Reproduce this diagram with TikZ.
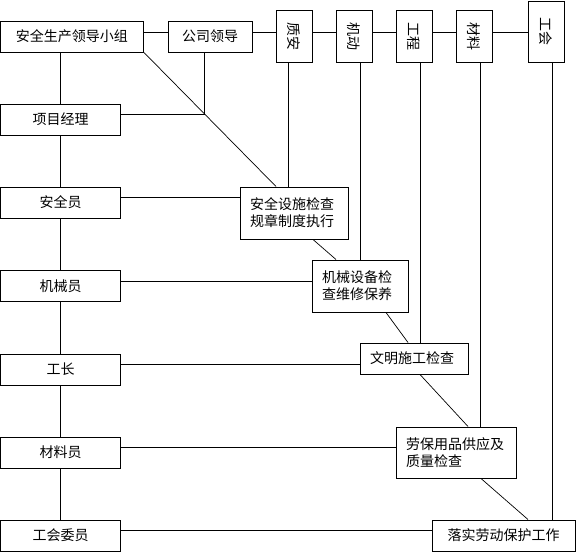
\documentclass[tikz,border=0pt]{standalone}
\usepackage{fontspec}
\newfontfamily\cjk{Noto Sans CJK SC}
\usetikzlibrary{calc}

\begin{document}
\begin{tikzpicture}[x=1pt,y=-1pt]
\tikzset{
	box/.style = {draw, line width=1pt, inner sep=0pt, font=\cjk\fontsize{14}{17}\selectfont},
	staff/.style = {box, minimum width=120pt, minimum height=31pt},
	dept/.style = {box, minimum width=36pt, minimum height=52pt},
	duty/.style = {box, align=left, inner xsep=10pt},
	link/.style = {line width=1pt},
	slant/.style = {line width=0.7pt},
}
\useasboundingbox (0,0) rectangle (576,552);

\node(xiaozu)[box, minimum width=143pt, minimum height=31pt] at (72,36.5) {安全生产领导小组};
\node(lingdao)[box, minimum width=84pt, minimum height=31pt] at (210,36.5) {公司领导};

\foreach \name/\x/\txt in {zhian/294/质安, jidong/354/机动, gongcheng/414/工程, cailiao/474/材料}
	\node(\name)[dept] at (\x,36) {\rotatebox{-90}{\txt}};
\node(gonghui)[dept, minimum height=61pt] at (546,31.5) {\rotatebox{-90}{工会}};

\foreach \name/\y/\txt in {xiangmu/119.5/项目经理, anquanyuan/202.5/安全员, jixieyuan/286/机械员,
		gongzhang/369.5/工长, cailiaoyuan/452.5/材料员, gonghuiwy/535.5/工会委员}
	\node(\name)[staff] at (60.5,\y) {\txt};

\node(sheshi)[duty, text width=88pt, minimum height=52pt] at (294,213) {安全设施检查\\规章制度执行};
\node(jixie)[duty, text width=76pt, minimum height=52pt] at (360,286) {机械设备检\\查维修保养};
\node(wenming)[duty, text width=88pt, minimum height=31pt] at (414,358.5) {文明施工检查};
\node(laobao)[duty, text width=100pt, minimum height=51pt] at (456,452.5) {劳保用品供应及\\质量检查};
\node(luoshi)[box, minimum width=143pt, minimum height=31pt] at (503.5,535.5) {落实劳动保护工作};

\coordinate(top) at (0,32);
\foreach \a/\b in {xiaozu/lingdao, lingdao/zhian, zhian/jidong, jidong/gongcheng, gongcheng/cailiao, cailiao/gonghui}
	\draw[link] (\a.east |- top) -- (\b.west |- top);

\draw[link] (xiangmu.north |- xiaozu.south) -- (xiangmu.north);
\foreach \a/\b in {xiangmu/anquanyuan, anquanyuan/jixieyuan, jixieyuan/gongzhang,
		gongzhang/cailiaoyuan, cailiaoyuan/gonghuiwy}
	\draw[link] (\a.south) -- (\b.north);

\coordinate(lj) at ([xshift=-6pt]lingdao.south);
\draw[link] ([yshift=5pt]xiangmu.east) coordinate(m) -- (m -| lj) -- (lj);

\foreach \a/\b in {anquanyuan/sheshi, jixieyuan/jixie, gongzhang/wenming, cailiaoyuan/laobao, gonghuiwy/luoshi}
	\draw[link] ([yshift=5pt]\a.east) coordinate(h) -- (h -| \b.west);

\foreach \a/\s/\b in {zhian/-6/sheshi, jidong/6/jixie, gongcheng/6/wenming, cailiao/6/laobao, gonghui/6/luoshi}
	\draw[link] ([xshift=\s pt]\a.south) coordinate(v) -- (v |- \b.north);

\draw[slant] (xiaozu.south east) -- ([xshift=-18pt]sheshi.north);
\draw[slant] ([xshift=19pt]sheshi.south) -- ([xshift=-24pt]jixie.north);
\draw[slant] ([xshift=26pt]jixie.south) -- ([xshift=-6pt]wenming.north);
\draw[slant] ([xshift=6pt]wenming.south) -- ([xshift=12pt]laobao.north);
\draw[slant] ([xshift=25pt]laobao.south) -- ([xshift=24.5pt]luoshi.north);

\end{tikzpicture}
\end{document}
